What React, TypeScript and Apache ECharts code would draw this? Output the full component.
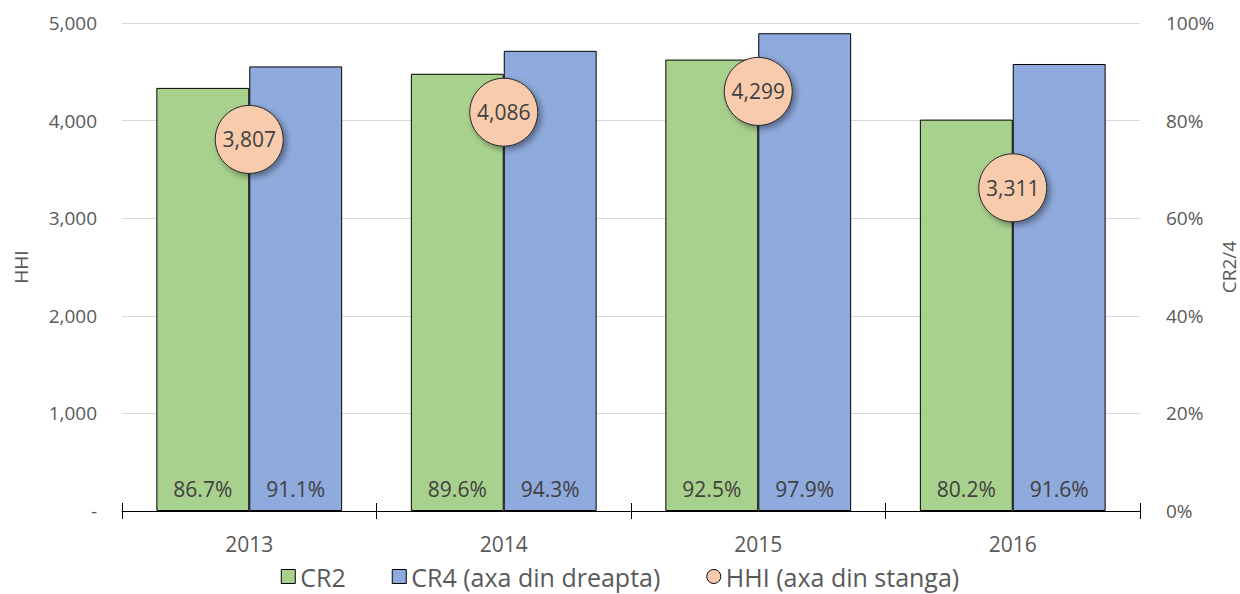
import React, { useEffect, useRef } from "react";
import * as echarts from "echarts";

const years = ["2013", "2014", "2015", "2016"];
const cr2 = [86.7, 89.6, 92.5, 80.2];
const cr4 = [91.1, 94.3, 97.9, 91.6];
const hhi = [3807, 4086, 4299, 3311];

const FONT = "'Open Sans', 'Noto Sans', sans-serif";
const TXT = "#595959";

export default function App() {
  const ref = useRef<HTMLDivElement>(null);
  useEffect(() => {
    const chart = echarts.init(ref.current!, null, { renderer: "svg" });
    chart.setOption({
      animation: false,
      textStyle: { fontFamily: FONT },
      grid: { left: 122, right: 100, top: 23, bottom: 83, containLabel: false, outerBoundsMode: "none" },
      legend: {
        bottom: 0,
        left: "center",
        itemGap: 46,
        itemWidth: 14,
        itemHeight: 14,
        textStyle: { fontSize: 25, color: TXT, fontFamily: FONT },
        data: [
          { name: "CR2", icon: "rect", itemStyle: { borderColor: "#000", borderWidth: 1 } },
          { name: "CR4 (axa din dreapta)", icon: "rect", itemStyle: { borderColor: "#000", borderWidth: 1 } },
          { name: "HHI (axa din stanga)", icon: "circle", itemStyle: { borderColor: "#000", borderWidth: 1, shadowBlur: 0, shadowOffsetX: 0, shadowOffsetY: 0 } },
        ],
      },
      xAxis: [
        {
          type: "category",
          data: years,
          axisLine: { show: true, lineStyle: { color: "#000", width: 1 } },
          axisTick: { show: true, length: 8, lineStyle: { color: "#000" } },
          axisLabel: { fontSize: 21, color: TXT, margin: 22, fontFamily: FONT },
          splitLine: { show: false },
        },
        {
          type: "category",
          data: years,
          position: "bottom",
          axisLine: { show: false },
          axisTick: { show: true, inside: true, length: 8, lineStyle: { color: "#000" } },
          axisLabel: { show: false },
        },
      ],
      yAxis: [
        {
          type: "value",
          name: "HHI",
          nameLocation: "middle",
          nameRotate: 90,
          nameGap: 92,
          nameMoveOverlap: false,
          nameTextStyle: { fontSize: 19, color: TXT, fontFamily: FONT },
          min: 0,
          max: 5000,
          interval: 1000,
          axisLine: { show: false },
          axisTick: { show: false },
          axisLabel: {
            fontSize: 19,
            color: TXT,
            margin: 25,
            fontFamily: FONT,
            formatter: (v: number) => (v === 0 ? "-" : v.toLocaleString("en-US")),
          },
          splitLine: { show: true, lineStyle: { color: "#d9d9d9", width: 1 } },
        },
        {
          type: "value",
          name: "CR2/4",
          nameLocation: "middle",
          nameRotate: 90,
          nameGap: 79,
          nameMoveOverlap: false,
          nameTextStyle: { fontSize: 19, color: TXT, fontFamily: FONT },
          min: 0,
          max: 100,
          interval: 20,
          position: "right",
          axisLine: { show: false },
          axisTick: { show: false },
          axisLabel: {
            fontSize: 19,
            color: TXT,
            margin: 26,
            fontFamily: FONT,
            formatter: (v: number) => v + "%",
          },
          splitLine: { show: false },
        },
      ],
      series: [
        {
          name: "CR2",
          type: "bar",
          yAxisIndex: 1,
          data: cr2,
          barGap: "0%",
          barCategoryGap: "27%",
          itemStyle: { color: "#A9D18E", borderColor: "#000", borderWidth: 1 },
          label: {
            show: true,
            position: "insideBottom",
            distance: 12,
            fontSize: 21,
            color: "#404040",
            fontFamily: FONT,
            formatter: (p: any) => p.value.toFixed(1) + "%",
          },
          z: 2,
        },
        {
          name: "CR4 (axa din dreapta)",
          type: "bar",
          yAxisIndex: 1,
          data: cr4,
          barGap: "0%",
          barCategoryGap: "27%",
          itemStyle: { color: "#8FAADC", borderColor: "#000", borderWidth: 1 },
          label: {
            show: true,
            position: "insideBottom",
            distance: 12,
            fontSize: 21,
            color: "#404040",
            fontFamily: FONT,
            formatter: (p: any) => p.value.toFixed(1) + "%",
          },
          z: 2,
        },
        {
          name: "HHI (axa din stanga)",
          type: "scatter",
          yAxisIndex: 0,
          data: hhi,
          symbol: "circle",
          symbolSize: 68,
          itemStyle: {
            color: "#F8CBAD",
            borderColor: "#262626",
            borderWidth: 1,
            shadowBlur: 6,
            shadowOffsetX: 3,
            shadowOffsetY: 3,
            shadowColor: "rgba(0,0,0,0.4)",
            opacity: 1,
          },
          label: {
            show: true,
            position: "inside",
            fontSize: 21,
            color: "#404040",
            fontFamily: FONT,
            formatter: (p: any) => p.value.toLocaleString("en-US"),
          },
          z: 5,
        },
      ],
    });
    return () => chart.dispose();
  }, []);
  return <div ref={ref} style={{ width: 1240, height: 594, position: "absolute", left: 0, top: 0 }} />;
}
